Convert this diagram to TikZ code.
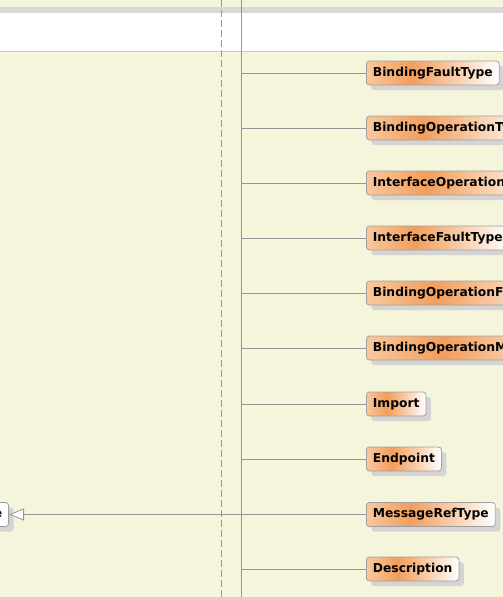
\documentclass[tikz,border=0pt]{standalone}
\usepackage{fontspec}
\setmainfont{DejaVu Sans}
\usetikzlibrary{arrows.meta,shadows}
\definecolor{bg}{RGB}{245,245,220}
\definecolor{band}{RGB}{217,217,217}
\definecolor{sepline}{RGB}{200,200,200}
\definecolor{wire}{RGB}{150,150,150}
\definecolor{oL}{RGB}{248,200,158}
\definecolor{oP}{RGB}{242,158,92}
\definecolor{nodeedge}{RGB}{160,160,160}
\definecolor{shad}{RGB}{212,212,212}
\pgfdeclarehorizontalshading{typegrad}{100bp}{color(0bp)=(oL); color(25bp)=(oL); color(42bp)=(oP); color(75bp)=(white); color(100bp)=(white)}
\tikzset{
  typebox/.style={draw=nodeedge, line width=0.8pt, rounded corners=3pt, shading=typegrad,
    minimum height=24pt, inner xsep=6.5pt, inner ysep=0pt, anchor=west,
    font=\fontsize{12.3}{13}\selectfont\bfseries,
    drop shadow={shadow xshift=5pt, shadow yshift=-5pt, fill=shad, opacity=1}},
  basebox/.style={draw=nodeedge, line width=0.8pt, rounded corners=3pt, fill=white,
    minimum height=24pt, inner xsep=6.5pt, inner ysep=0pt, anchor=east,
    font=\fontsize{12.3}{13}\selectfont\bfseries,
    drop shadow={shadow xshift=5pt, shadow yshift=-5pt, fill=shad, opacity=1}},
  wireline/.style={draw=wire, line width=0.8pt},
  dashline/.style={draw=wire, line width=0.8pt, dash pattern=on 7pt off 3pt}
}
\begin{document}
\begin{tikzpicture}[x=1pt,y=-1pt]
\useasboundingbox (0,0) rectangle (503,597);
\clip (0,0) rectangle (503,597);
\fill[bg] (0,0) rectangle (503,597);
\fill[band] (0,7) rectangle (503,13);
\fill[white] (0,13) rectangle (503,51);
\draw[sepline, line width=0.8pt] (0,51) -- (503,51);
\coordinate (dtop) at (221,0);
\coordinate (dbot) at (221,597);
\coordinate (stop) at (241,0);
\coordinate (sbot) at (241,597);
\draw[dashline] (dtop) -- (dbot);
\draw[wireline] (stop) -- (sbot);
\foreach \name/\txt/\yy in {n1/BindingFaultType/73, n2/BindingOperationType/128,
  n3/InterfaceOperationType/183, n4/InterfaceFaultType/238,
  n5/BindingOperationFaultType/293, n6/BindingOperationMessageType/348,
  n7/Import/404, n8/Endpoint/459, n9/MessageRefType/514.5, n10/Description/569}{
  \coordinate (c\name) at (241,\yy);
  \node[typebox] (\name) at (366,\yy) {\txt};
  \draw[wireline] (c\name) -- (\name.west);
}
\node[basebox] (base) at (9,514.5) {ExtensibleDocumentedType};
\draw[wireline, -{Triangle[length=15pt,width=12pt,fill=white]}] (n9.west) -- (base.east);
\end{tikzpicture}
\end{document}
